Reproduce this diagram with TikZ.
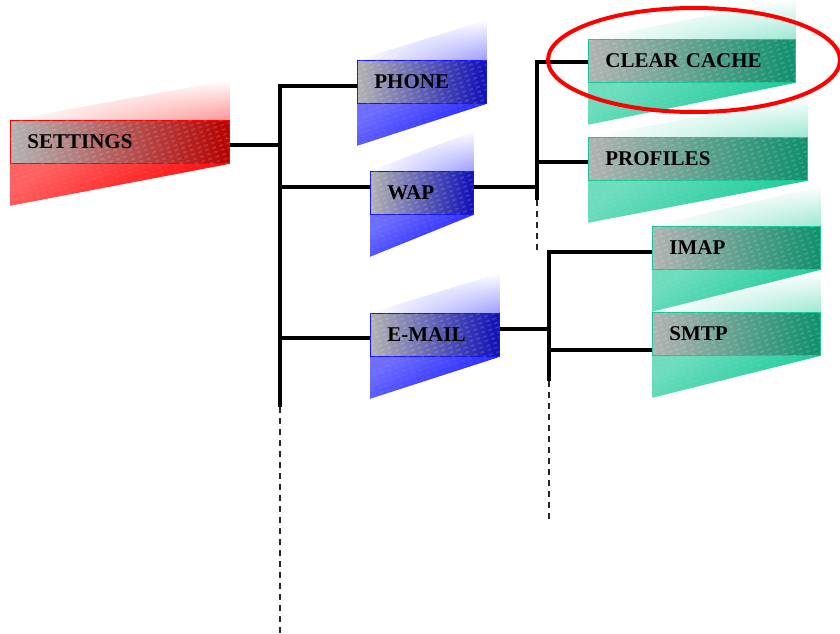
\documentclass[tikz,border=0pt]{standalone}
\usepackage{fontspec}
\setmainfont{Liberation Serif}
\usetikzlibrary{patterns.meta,backgrounds,fadings}

\definecolor{rootred}{RGB}{255,0,0}
\definecolor{midblue}{RGB}{20,20,255}
\definecolor{leafgreen}{RGB}{20,200,150}

% faint white dash texture laid over the boxes
\pgfdeclarepattern{
  name=dashtexture,
  type=uncolored,
  bottom left={\pgfpoint{0pt}{0pt}},
  top right={\pgfpoint{7pt}{4pt}},
  tile size={\pgfpoint{7pt}{4pt}},
  tile transformation={\pgftransformrotate{18}},
  code={
    \pgfsetlinewidth{0.8pt}
    \pgfpathmoveto{\pgfpoint{0.5pt}{2pt}}
    \pgfpathlineto{\pgfpoint{4.5pt}{2pt}}
    \pgfusepath{stroke}
  }
}

% the band above a box fades out towards its top
\tikzfading[name=upfade, top color=transparent!100, bottom color=transparent!0]

\tikzset{
  menubox/.style 2 args={draw=#1, line width=0.8pt, anchor=north west,
    minimum height=43pt, inner xsep=17pt, inner ysep=0pt,
    text width=#2, align=left,
    font=\bfseries\fontsize{21}{24}\selectfont,
    left color=gray!60, right color=#1!72!black,
    postaction={pattern=dashtexture, pattern color=white, fill opacity=0.4}},
  wire/.style={line width=4pt, black, line join=miter},
  stub/.style={line width=1.1pt, black!85, dash pattern=on 6pt off 5pt},
  ring/.style={draw=red, line width=4pt}
}

% slanted colour bands above and below a box
\newcommand\menuribbon[2]{%
  \shade[top color=#2!62, bottom color=#2, shading angle=35,
         postaction={pattern=dashtexture, pattern color=white, fill opacity=0.15}]
    (#1.south west) -- (#1.south east) -- ([yshift=-42pt]#1.south west) -- cycle;
  \shade[left color=white, right color=#2!42, path fading=upfade]
    (#1.north west) -- (#1.north east) -- ([yshift=40pt]#1.north east) -- cycle;
}

\begin{document}
\begin{tikzpicture}[x=1pt,y=-1pt]
\useasboundingbox (0,0) rectangle (840,634);

% menu entries
\node[menubox={rootred}{185pt}]   (settings) at (10,120)  {SETTINGS};
\node[menubox={midblue}{95pt}]    (phone)    at (357,60)  {PHONE};
\node[menubox={midblue}{69pt}]    (wap)      at (370,171) {WAP};
\node[menubox={midblue}{95pt}]    (email)    at (370,313) {E-MAIL};
\node[menubox={leafgreen}{173pt}] (clear)    at (588,39)  {CLEAR CACHE};
\node[menubox={leafgreen}{185pt}] (profiles) at (588,137) {PROFILES};
\node[menubox={leafgreen}{134pt}] (imap)     at (652,226) {IMAP};
\node[menubox={leafgreen}{134pt}] (smtp)     at (652,312) {SMTP};

\begin{scope}[on background layer]
  \menuribbon{settings}{rootred}
  \menuribbon{phone}{midblue}
  \menuribbon{wap}{midblue}
  \menuribbon{email}{midblue}
  \menuribbon{clear}{leafgreen}
  \menuribbon{profiles}{leafgreen}
  \menuribbon{imap}{leafgreen}
  \menuribbon{smtp}{leafgreen}
\end{scope}

% first level bus
\coordinate (s0) at (280,145);
\coordinate (p0) at (280,86);
\coordinate (w0) at (280,187);
\coordinate (e0) at (280,338);
\coordinate (b1bot) at (280,407);
\coordinate (b1end) at (280,634);
\draw[wire] (settings.east |- s0) -- (s0);
\draw[wire] (phone.west |- p0) -- (p0) -- (b1bot);
\draw[wire] (wap.west |- w0) -- (w0);
\draw[wire] (email.west |- e0) -- (e0);
\draw[stub] (b1bot) -- (b1end);

% WAP bus
\coordinate (c1) at (537,62);
\coordinate (f1) at (537,162);
\coordinate (w1) at (537,187);
\coordinate (b2bot) at (537,200);
\coordinate (b2end) at (537,252);
\draw[wire] (clear.west |- c1) -- (c1) -- (b2bot);
\draw[wire] (profiles.west |- f1) -- (f1);
\draw[wire] (wap.east |- w1) -- (w1);
\draw[stub] (b2bot) -- (b2end);

% E-MAIL bus
\coordinate (i2) at (549,252);
\coordinate (m2) at (549,350);
\coordinate (e2) at (549,329);
\coordinate (b3bot) at (549,381);
\coordinate (b3end) at (549,522);
\draw[wire] (imap.west |- i2) -- (i2) -- (b3bot);
\draw[wire] (smtp.west |- m2) -- (m2);
\draw[wire] (email.east |- e2) -- (e2);
\draw[stub] (b3bot) -- (b3end);

% highlight round CLEAR CACHE
\draw[ring] (694,60) ellipse [x radius=146pt, y radius=52pt];
\end{tikzpicture}
\end{document}
